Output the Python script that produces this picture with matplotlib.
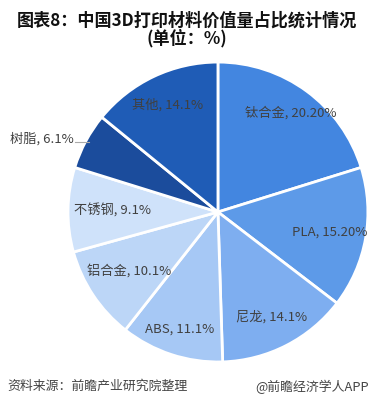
import numpy as np
import matplotlib.pyplot as plt

plt.rcParams['font.family'] = ['Noto Sans CJK SC', 'DejaVu Sans']

materials = ['钛合金', 'PLA', '尼龙', 'ABS', '铝合金', '不锈钢', '树脂', '其他']
shares = [20.2, 15.2, 14.1, 11.1, 10.1, 9.1, 6.1, 14.1]
share_text = ['20.20%', '15.20%', '14.1%', '11.1%', '10.1%', '9.1%', '6.1%', '14.1%']
colors = ['#4386e0', '#5d9ae8', '#7eaef0', '#a6c8f5', '#bcd6f7', '#cfe2fa', '#1b4c9c', '#1f5cb6']


def main():
    fig = plt.figure(figsize=(3.73, 4.05), dpi=100)
    ax = fig.add_axes([0.1823, 0.106, 0.804, 0.741])

    wedges, _ = ax.pie(shares, colors=colors, startangle=90, counterclock=False,
                       radius=1, wedgeprops=dict(edgecolor='white', linewidth=2))
    ax.set_xlim(-1, 1)
    ax.set_ylim(-1, 1)
    ax.set_aspect('equal')
    ax.axis('off')

    dist = [0.82, 0.76, 0.79, 0.82, 0.71, 0.70, 1.0, 0.79]
    for w, name, txt, d in zip(wedges, materials, share_text, dist):
        ang = np.deg2rad((w.theta1 + w.theta2) / 2)
        x, y = np.cos(ang), np.sin(ang)
        label = name + ', ' + txt
        if name == '树脂':
            # leader line outside the small slice
            ax.plot([0.98 * x, 0.98 * x - 0.09], [0.98 * y, 0.98 * y], color='#aaaaaa', lw=0.8)
            ax.text(0.98 * x - 0.1, 0.98 * y + 0.025, label, ha='right', va='center',
                    fontsize=9.5, color='#404040')
        else:
            ax.text(d * x, d * y, label, ha='center', va='center',
                    fontsize=9.5, color='#404040')

    fig.text(0.5, 0.949, '图表8：中国3D打印材料价值量占比统计情况', ha='center', va='center',
             fontsize=12.3, fontweight='bold', color='#111111')
    fig.text(0.5, 0.905, '(单位：%)', ha='center', va='center',
             fontsize=12.3, fontweight='bold', color='#111111')
    fig.text(0.02, 0.045, '资料来源：前瞻产业研究院整理', ha='left', va='center',
             fontsize=9.3, color='#444444')
    fig.text(0.99, 0.045, '@前瞻经济学人APP', ha='right', va='center',
             fontsize=9.3, color='#444444')

    fig.savefig('out.png', dpi=100, facecolor='white')


if __name__ == '__main__':
    main()
